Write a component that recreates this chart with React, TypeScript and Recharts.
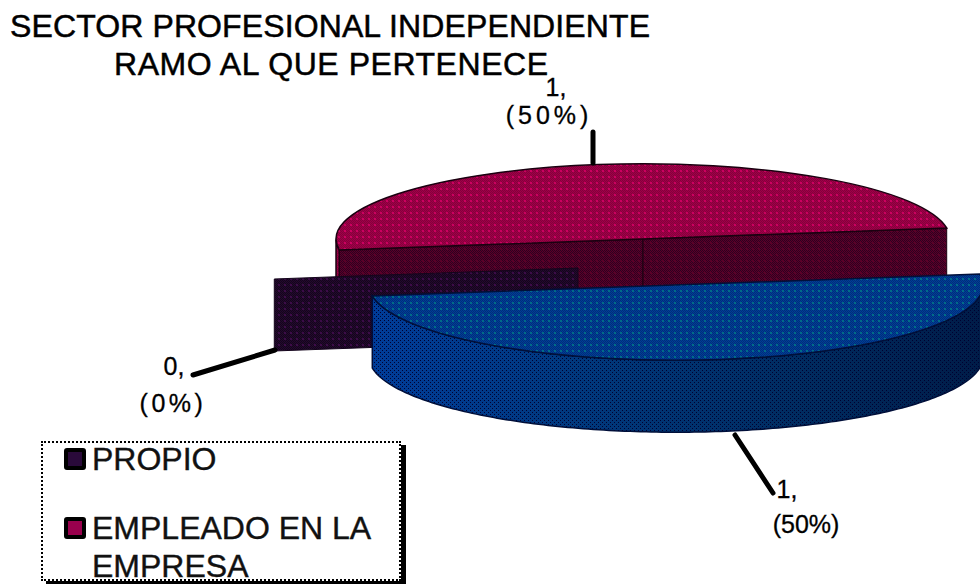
import { PieChart, Pie, Legend } from 'recharts';

const categories = ['PROPIO', 'EMPLEADO EN LA EMPRESA', ''];
const values = [0, 1, 1];
const colors = ['#2a0a3a', '#99004d', '#003c90'];
const titleLines = ['SECTOR PROFESIONAL INDEPENDIENTE', 'RAMO AL QUE PERTENECE'];

const pieData = categories.map((name, i) => ({ name, value: values[i], fill: colors[i] }));

const FONT = '"Liberation Sans", Arial, sans-serif';
const SQUASH = 0.245;
const DEPTH = 72;
const RAD = Math.PI / 180;

// how far each slice is pulled out of the pie
const explode = [
  { x: -65, y: 29 },
  { x: 0, y: 0 },
  { x: 33, y: 46 },
];

const sliceLook = [
  { top: 'dPurple', wall: 'dPurple', face: 'dPurple', stroke: '#14051c' },
  { top: 'dRed', wall: 'dRed', face: 'dWine', stroke: '#1a0010' },
  { top: 'dBlue', wall: 'gBlueWall', face: 'dBlue', stroke: '#00103a' },
];

const labelSpots = [
  { x: 174, y: 375, x2: 173, y2: 412, gap: 3.5, from: [275, 350], to: [193, 375] },
  { x: 556, y: 96, x2: 549, y2: 124, gap: 4, from: [593, 163], to: [593, 132] },
  { x: 787, y: 498, x2: 806, y2: 533, gap: 0, from: [735, 435], to: [773, 493] },
];

function Slice3D(props: any) {
  const { cx, cy, outerRadius: R, startAngle, endAngle, index } = props;
  const ox = cx + explode[index].x;
  const oy = cy + explode[index].y;
  const look = sliceLook[index];
  const pt = (deg: number, dz = 0) => [ox + R * Math.cos(deg * RAD), oy - SQUASH * R * Math.sin(deg * RAD) + dz];
  const [sx, sy] = pt(startAngle);
  const [ex, ey] = pt(endAngle);
  const span = Math.abs(startAngle - endAngle);
  // cut faces only show on slices that sit behind the centre
  const showFaces = span === 0 || Math.sin(((startAngle + endAngle) / 2) * RAD) > 0;

  // outer wall, only the part that faces the viewer
  const front: number[] = [];
  for (let a = startAngle; a >= endAngle; a -= 1) {
    if (Math.sin(a * RAD) <= 0) front.push(a);
  }
  if (span > 0 && Math.sin(endAngle * RAD) <= 0) front.push(endAngle);
  let wall = '';
  if (span > 0 && front.length > 1) {
    const upper = front.map((a) => pt(a).join(','));
    const lower = [...front].reverse().map((a) => pt(a, DEPTH).join(','));
    wall = `M${upper.join(' L')} L${lower.join(' L')} Z`;
  }
  const quad = (x: number, y: number) => `M${ox},${oy} L${x},${y} L${x},${y + DEPTH} L${ox},${oy + DEPTH} Z`;

  return (
    <g>
      {wall && <path d={wall} fill={`url(#${look.wall})`} stroke={look.stroke} strokeWidth={1.5} />}
      {wall && index === 2 && <path d={wall} fill="url(#dShade)" />}
      {showFaces && <path d={quad(sx, sy)} fill={`url(#${look.face})`} stroke={look.stroke} strokeWidth={1} />}
      {showFaces && span > 0 && <path d={quad(ex, ey)} fill={`url(#${look.face})`} stroke={look.stroke} strokeWidth={1} />}
      {span > 0 && (
        <path
          d={`M${sx},${sy} A${R},${R * SQUASH} 0 ${span > 180 ? 1 : 0} 1 ${ex},${ey} Z`}
          fill={`url(#${look.top})`}
          stroke={look.stroke}
          strokeWidth={1.5}
        />
      )}
    </g>
  );
}

// the red half has to sit behind the zero slice, so it gets its own pass
const BackLayer = (props: any) => (props.index === 1 ? <Slice3D {...props} /> : <g />);
const FrontLayer = (props: any) => (props.index === 1 ? <g /> : <Slice3D {...props} />);

function SliceLabel(props: any) {
  const { index, value, percent } = props;
  const spot = labelSpots[index];
  return (
    <g fontFamily={FONT} fontSize={25} fill="#000" stroke="#000" strokeWidth={0.3} textAnchor="middle">
      <text x={spot.x} y={spot.y}>{`${value},`}</text>
      <text x={spot.x2} y={spot.y2} letterSpacing={spot.gap}>{`(${Math.round(percent * 100)}%)`}</text>
    </g>
  );
}

function SliceLeader(props: any) {
  const spot = labelSpots[props.index];
  return (
    <line
      x1={spot.from[0]}
      y1={spot.from[1]}
      x2={spot.to[0]}
      y2={spot.to[1]}
      stroke="#000"
      strokeWidth={5}
      strokeLinecap="round"
    />
  );
}

function LegendBox({ payload }: any) {
  // both passes of the pie report their slices, keep one row per name
  const items = (payload || []).filter(
    (p: any, i: number, all: any[]) => p.value && all.findIndex((q) => q.value === p.value) === i
  );
  return (
    <div
      style={{
        boxSizing: 'border-box',
        width: 360,
        height: 140,
        background: '#fff',
        border: '2px dotted #000',
        boxShadow: '5px 4px 0 #000',
        fontFamily: FONT,
        fontSize: 32,
        lineHeight: '38px',
        color: '#111',
        WebkitTextStroke: '0.4px #111',
        position: 'relative',
      }}
    >
      {items.map((p: any, i: number) => (
        <div key={p.value} style={{ position: 'absolute', left: 21, top: i === 0 ? -3 : 66, width: 330, display: 'flex' }}>
          <span
            style={{
              flex: 'none',
              boxSizing: 'border-box',
              width: 22,
              height: 22,
              marginTop: 8,
              marginRight: 6,
              background: p.color,
              border: '4px solid #000',
              borderRadius: 3,
            }}
          />
          <span>{p.value}</span>
        </div>
      ))}
    </div>
  );
}

function Dither({ id, base, alt, dot }: { id: string; base: string; alt: string; dot: string }) {
  return (
    <pattern id={id} width={6} height={6} patternUnits="userSpaceOnUse">
      <rect width={6} height={6} fill={base} />
      {[0, 2, 4].map((x) =>
        [0, 2, 4].map((y) => <rect key={`${x}-${y}`} x={x} y={y} width={1} height={1} fill={alt} />)
      )}
      {[1, 3, 5].map((x) =>
        [1, 3, 5].map((y) => <rect key={`${x}-${y}`} x={x} y={y} width={1} height={1} fill={alt} />)
      )}
      <rect x={2} y={2} width={2} height={2} fill={dot} />
    </pattern>
  );
}

export default function App() {
  const pieProps = {
    data: pieData,
    dataKey: 'value',
    nameKey: 'name',
    cx: 643,
    cy: 239,
    outerRadius: 307,
    startAngle: 188.4,
    endAngle: -171.6,
    stroke: 'none',
    isAnimationActive: false,
    rootTabIndex: -1,
  };
  return (
    <div style={{ position: 'absolute', left: 0, top: 0, width: 980, height: 584, overflow: 'hidden', background: '#fff' }}>
      <PieChart width={980} height={584} margin={{ top: 0, right: 0, bottom: 0, left: 0 }}>
        <defs>
          <Dither id="dRed" base="#a00048" alt="#85003c" dot="#cc0060" />
          <Dither id="dWine" base="#5a0028" alt="#2e0020" dot="#5a0028" />
          <Dither id="dPurple" base="#240830" alt="#14061a" dot="#3c0c48" />
          <Dither id="dBlue" base="#003c98" alt="#003078" dot="#006c88" />
          <pattern id="dShade" width={4} height={4} patternUnits="userSpaceOnUse">
            <rect x={0} y={0} width={1} height={1} fill="#000030" />
            <rect x={2} y={2} width={1} height={1} fill="#000030" />
          </pattern>
          <linearGradient id="gBlueWall" x1="0" y1="0" x2="1" y2="0">
            <stop offset="0%" stopColor="#003c98" />
            <stop offset="35%" stopColor="#00387c" />
            <stop offset="70%" stopColor="#002c60" />
            <stop offset="100%" stopColor="#001c48" />
          </linearGradient>
        </defs>
        <Pie {...pieProps} legendType="none" shape={BackLayer} inactiveShape={BackLayer} activeShape={BackLayer} />
        <Pie
          {...pieProps}
          shape={FrontLayer}
          inactiveShape={FrontLayer}
          activeShape={FrontLayer}
          label={SliceLabel}
          labelLine={SliceLeader}
        />
        <g fontFamily={FONT} fontSize={32} fill="#000" stroke="#000" strokeWidth={0.5}>
          <text x={10} y={37} textLength={640} lengthAdjust="spacing">{titleLines[0]}</text>
          <text x={114} y={75} textLength={434} lengthAdjust="spacing">{titleLines[1]}</text>
        </g>
        <Legend content={LegendBox} itemSorter={null} wrapperStyle={{ left: 41, top: 441, bottom: 'auto', width: 365 }} />
      </PieChart>
    </div>
  );
}
